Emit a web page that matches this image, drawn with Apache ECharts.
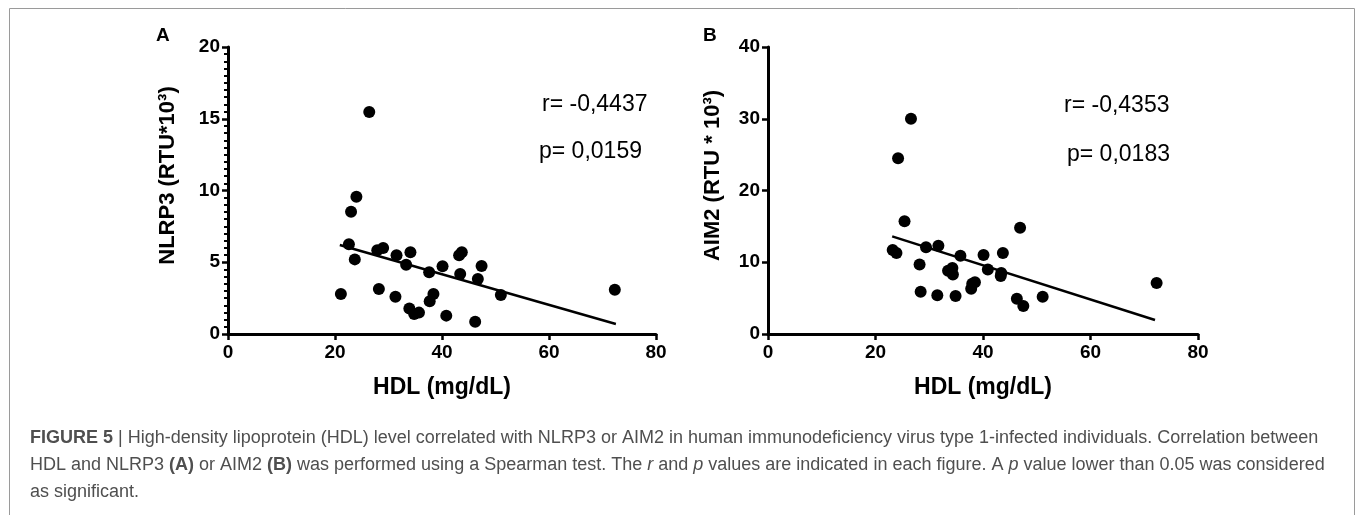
<!DOCTYPE html>
<html><head><meta charset="utf-8">
<script src="https://cdn.jsdelivr.net/npm/echarts@6/dist/echarts.min.js"></script>
<style>html,body{margin:0;padding:0;background:#fff}#c{width:1358px;height:515px}</style>
</head><body><div id="c"></div>
<script>
// Panel A: HDL vs NLRP3
const hdlA = [26.4,24.0,23.0,22.6,23.7,21.1,27.9,29.0,28.2,31.5,31.3,33.3,34.1,33.9,34.8,35.7,37.6,38.4,37.7,40.1,40.8,43.2,43.7,43.4,47.4,46.7,46.2,51.0,72.3];
const nlrp3 = [15.47,9.57,8.52,6.25,5.20,2.79,5.83,5.99,3.14,5.48,2.60,4.83,5.69,1.77,1.39,1.49,4.30,2.79,2.28,4.72,1.28,5.48,5.69,4.18,4.74,3.83,0.86,2.72,3.09];
const fitA_x = [20.9, 72.5];
const fitA_y = [6.20, 0.70];
// Panel B: HDL vs AIM2
const hdlB = [26.6,24.2,25.4,23.2,23.9,29.4,31.7,28.2,28.4,31.5,34.9,33.5,34.3,34.4,35.8,37.8,38.5,38.0,40.1,40.9,43.7,43.3,43.4,46.9,46.3,47.5,51.1,72.3];
const aim2 = [30.0,24.5,15.7,11.7,11.3,12.1,12.3,9.7,5.9,5.4,5.3,8.8,9.2,8.3,10.9,6.3,7.2,7.0,11.0,9.0,11.3,8.1,8.5,14.8,4.9,3.9,5.2,7.1];
const fitB_x = [23.1, 72.0];
const fitB_y = [13.6, 1.95];
const xTicks = [0,20,40,60,80];
const statsA = ['r= -0,4437','p= 0,0159'];
const statsB = ['r= -0,4353','p= 0,0183'];

const F = '"Liberation Sans", Arial, sans-serif';
const chart = echarts.init(document.getElementById('c'), null, {renderer:'canvas'});
function xAxis(gi){
  return {gridIndex:gi, type:'value', min:xTicks[0], max:xTicks[xTicks.length-1], interval:xTicks[1]-xTicks[0],
    axisLine:{lineStyle:{color:'#000',width:3}},
    axisTick:{length:6,lineStyle:{color:'#000',width:2.5}},
    axisLabel:{color:'#000',fontFamily:F,fontWeight:'bold',fontSize:19,margin:9},
    splitLine:{show:false},
    name:'HDL (mg/dL)', nameLocation:'middle', nameGap:42,
    nameTextStyle:{color:'#000',fontFamily:F,fontWeight:'bold',fontSize:23}};
}
function yAxis(gi,max,interval,minor,name,gap){
  return {gridIndex:gi, type:'value', min:0, max:max, interval:interval,
    axisLine:{show:true,lineStyle:{color:'#000',width:3}},
    axisTick:{show:true,length:6,lineStyle:{color:'#000',width:2.5}},
    minorTick:{show:minor,splitNumber:10,length:4,lineStyle:{color:'#000',width:2}},
    axisLabel:{color:'#000',fontFamily:F,fontWeight:'bold',fontSize:19,margin:8},
    splitLine:{show:false},
    name:name, nameLocation:'middle', nameRotate:90, nameGap:gap,
    nameTextStyle:{color:'#000',fontFamily:F,fontWeight:'bold',fontSize:22,padding:[0,0,0,30]}};
}
const FS = 18;
const rich = {
  b:{fontFamily:F,fontSize:FS,fontWeight:'bold',color:'#2b2b2b'},
  i:{fontFamily:F,fontSize:FS,fontStyle:'italic',color:'#4f4f4f'},
  n:{fontFamily:F,fontSize:FS,color:'#4f4f4f'}
};
function capLine(y, txt){
  return {type:'text', left:30, top:y, style:{text:txt, rich:rich, font:FS+'px '+F, fill:'#4f4f4f'}};
}
function stat(x,y,t){
  return {type:'text', x:x, y:y, style:{text:t, font:'23px '+F, fill:'#000', verticalAlign:'middle', align:'left'}};
}
chart.setOption({
  animation:false,
  grid:[{left:228,width:428,top:47,height:287},{left:768,width:430,top:47,height:287}],
  xAxis:[xAxis(0),xAxis(1)],
  yAxis:[yAxis(0,20,5,true,'NLRP3 (RTU*10³)',49),yAxis(1,40,10,false,'AIM2 (RTU * 10³)',44)],
  series:[
    {type:'scatter',xAxisIndex:0,yAxisIndex:0,symbolSize:12,itemStyle:{color:'#000',opacity:1},
      data:hdlA.map((v,i)=>[v,nlrp3[i]])},
    {type:'line',xAxisIndex:0,yAxisIndex:0,symbol:'none',lineStyle:{color:'#000',width:2.5},
      data:fitA_x.map((v,i)=>[v,fitA_y[i]])},
    {type:'scatter',xAxisIndex:1,yAxisIndex:1,symbolSize:12,itemStyle:{color:'#000',opacity:1},
      data:hdlB.map((v,i)=>[v,aim2[i]])},
    {type:'line',xAxisIndex:1,yAxisIndex:1,symbol:'none',lineStyle:{color:'#000',width:2.5},
      data:fitB_x.map((v,i)=>[v,fitB_y[i]])}
  ],
  graphic:[
    {type:'rect',shape:{x:9.5,y:8.5,width:1345,height:520},style:{fill:'none',stroke:'#9a9a9a',lineWidth:1}},
    {type:'text',left:156,top:26,style:{text:'A',font:'bold 19px '+F,fill:'#000'}},
    {type:'text',left:703,top:26,style:{text:'B',font:'bold 19px '+F,fill:'#000'}},
    stat(542,105,statsA[0]),
    stat(539,152,statsA[1]),
    stat(1064,106,statsB[0]),
    stat(1067,155,statsB[1]),
    capLine(429,'{b|FIGURE 5} {n|| High-density lipoprotein (HDL) level correlated with NLRP3 or AIM2 in human immunodeficiency virus type 1-infected individuals. Correlation between}'),
    capLine(456,'{n|HDL and NLRP3 }{b|(A)}{n| or AIM2 }{b|(B)}{n| was performed using a Spearman test. The }{i|r}{n| and }{i|p}{n| values are indicated in each figure. A }{i|p}{n| value lower than 0.05 was considered}'),
    capLine(483,'{n|as significant.}')
  ]
});
</script></body></html>
